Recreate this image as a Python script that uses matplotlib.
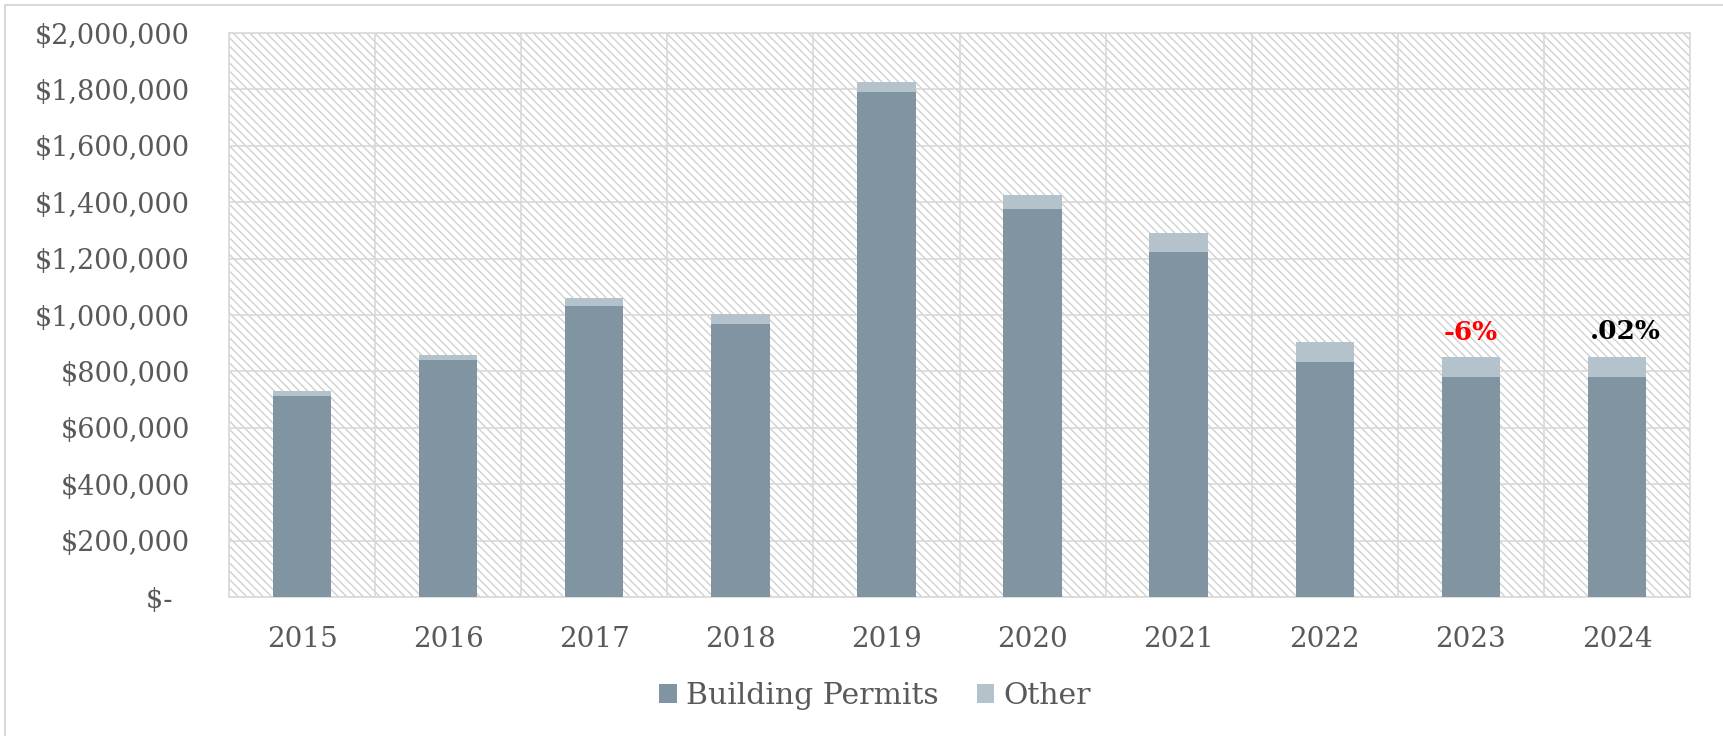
import matplotlib
matplotlib.use("Agg")
import matplotlib.pyplot as plt
from matplotlib.patches import Rectangle
from matplotlib.ticker import FuncFormatter, MultipleLocator, FixedLocator
import numpy as np

years = ["2015", "2016", "2017", "2018", "2019", "2020", "2021", "2022", "2023", "2024"]
building_permits = [713000, 840000, 1032000, 969000, 1791000, 1375000, 1225000, 834000, 780000, 780000]
other = [17000, 18000, 27000, 35000, 36000, 51000, 65000, 69000, 70000, 72000]
annotations = {8: ("-6%", "#ff0000"), 9: (".02%", "#000000")}

plt.rcParams['font.family'] = ['DejaVu Serif']

W, H = 1723, 736
fig = plt.figure(figsize=(W / 100, H / 100), dpi=100)
ax = fig.add_axes([229 / W, 1 - 597 / H, (1690 - 229) / W, (597 - 33) / H])

# outer chart border (left/top visible)
fig.patches.append(Rectangle((5 / W, -0.05), 1.2, 1 - 5 / H + 0.05, transform=fig.transFigure,
                             fill=False, edgecolor='#d9d9d9', linewidth=1.5, zorder=-5))

# hatched plot background
ax.set_facecolor('white')
plt.rcParams['hatch.linewidth'] = 1.0
bg = Rectangle((0, 0), 1, 1, transform=ax.transAxes, facecolor='white',
               edgecolor='#d0d0d0', hatch='\\\\\\\\', linewidth=0, zorder=0)
ax.add_patch(bg)

x = np.arange(len(years))
bp_color = '#8094a1'
ot_color = '#b4c2cc'
ax.bar(x, building_permits, width=0.4, color=bp_color, label='Building Permits', zorder=3)
ax.bar(x, other, width=0.4, bottom=building_permits, color=ot_color, label='Other', zorder=3)

ax.set_xlim(-0.5, len(years) - 0.5)
ax.set_ylim(0, 2000000)
ax.yaxis.set_major_locator(MultipleLocator(200000))

def fmt(v, pos):
    if v == 0:
        return "$-  "
    return "${:,.0f}".format(v)

ax.yaxis.set_major_formatter(FuncFormatter(fmt))
ax.set_xticks(x)
ax.set_xticklabels(years)
ax.xaxis.set_minor_locator(FixedLocator(np.arange(-0.5, len(years), 1.0)))

ax.grid(axis='y', which='major', color='#d9d9d9', linewidth=1.2, zorder=1)
ax.grid(axis='x', which='minor', color='#d9d9d9', linewidth=1.2, zorder=1)
ax.set_axisbelow(True)
for s in ax.spines.values():
    s.set_color('#d9d9d9')
    s.set_linewidth(1.2)

ax.tick_params(axis='both', which='both', length=0)
ax.tick_params(axis='y', labelsize=19.5, labelcolor='#595959', pad=28)
ax.tick_params(axis='x', labelsize=20, labelcolor='#595959', pad=21)

totals = [b + o for b, o in zip(building_permits, other)]
for i, (txt, col) in annotations.items():
    dx = 6 if i == 9 else 0
    ax.annotate(txt, xy=(i, totals[i]), xytext=(dx, 9), textcoords='offset points',
                ha='center', va='bottom', fontsize=19, fontweight='bold', color=col, zorder=5)

leg = fig.legend(loc='center', bbox_to_anchor=(875 / W, 1 - 696 / H), ncol=2, frameon=False,
                 fontsize=21.5, handlelength=0.6, handleheight=0.6, handletextpad=0.3,
                 columnspacing=1.27, labelcolor='#595959')

fig.savefig('out.png', dpi=100)
